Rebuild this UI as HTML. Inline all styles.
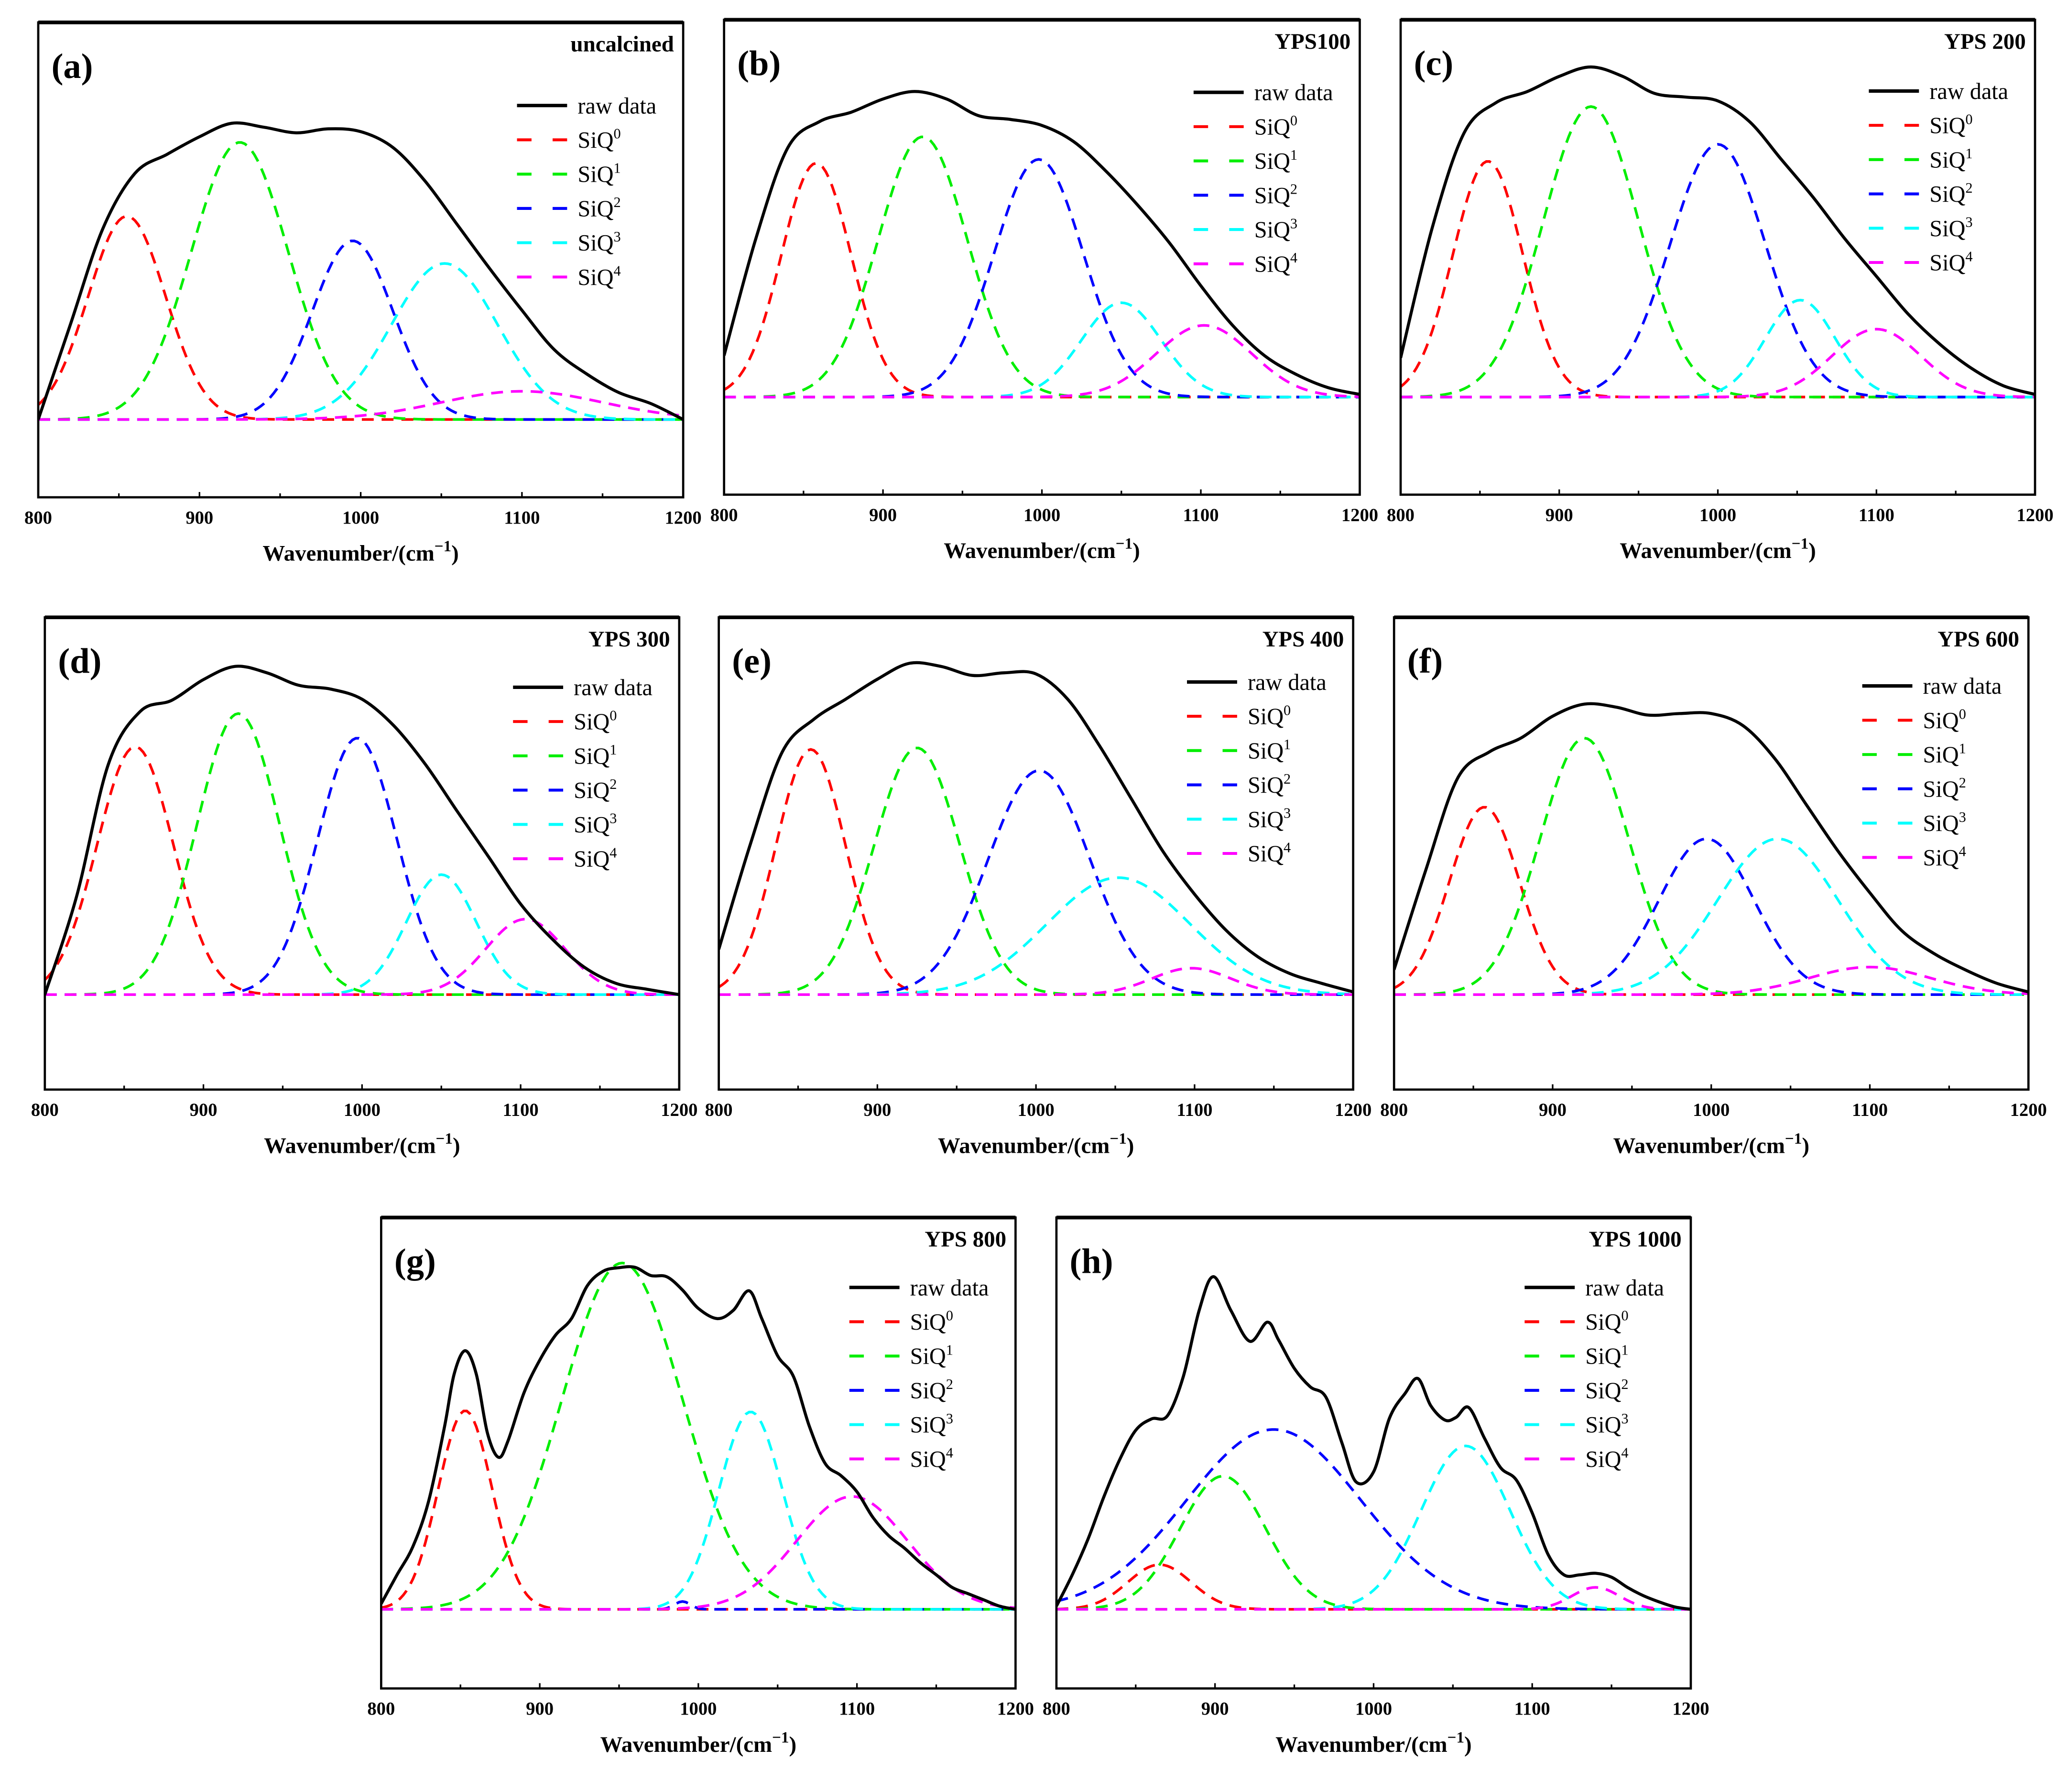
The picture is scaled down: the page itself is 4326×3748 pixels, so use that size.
<!DOCTYPE html>
<html><head><meta charset="utf-8"><style>
html,body{margin:0;padding:0;background:#fff}
svg{display:block}
text{font-family:"Liberation Serif",serif}
</style></head><body>
<svg id="fig" xmlns="http://www.w3.org/2000/svg" width="4326" height="3748" viewBox="0 0 1568 1358.5" preserveAspectRatio="none"></svg>
<script>
const xTicks=[800,900,1000,1100,1200];
const seriesNames=["SiQ0","SiQ1","SiQ2","SiQ3","SiQ4"];
const panelLabels=["(a)","(b)","(c)","(d)","(e)","(f)","(g)","(h)"];
const panelTitles=["uncalcined","YPS100","YPS 200","YPS 300","YPS 400","YPS 600","YPS 800","YPS 1000"];
const grid20=[800,820,840,860,880,900,920,940,960,980,1000,1020,1040,1060,1080,1100,1120,1140,1160,1180,1200];
const rawY_a=[0,0.24,0.48,0.62,0.668,0.712,0.746,0.736,0.722,0.732,0.725,0.685,0.6,0.49,0.38,0.275,0.176,0.115,0.068,0.04,0];
const rawY_b=[0.11,0.42,0.66,0.73,0.755,0.79,0.81,0.79,0.746,0.736,0.72,0.677,0.6,0.51,0.41,0.295,0.19,0.11,0.06,0.025,0.007];
const rawY_c=[0.104,0.45,0.7,0.78,0.81,0.85,0.875,0.85,0.805,0.795,0.785,0.73,0.63,0.53,0.42,0.32,0.22,0.14,0.076,0.03,0.007];
const rawY_d=[0,0.26,0.61,0.75,0.78,0.835,0.87,0.853,0.82,0.81,0.783,0.713,0.61,0.486,0.364,0.24,0.147,0.073,0.03,0.014,0];
const rawY_e=[0.12,0.4,0.643,0.73,0.783,0.836,0.878,0.87,0.846,0.853,0.85,0.783,0.66,0.52,0.38,0.266,0.17,0.1,0.056,0.03,0.007];
const rawY_f=[0.066,0.33,0.573,0.643,0.68,0.738,0.77,0.762,0.741,0.745,0.745,0.713,0.626,0.503,0.38,0.27,0.17,0.11,0.066,0.03,0.007];
const rawX_g=[800,810,820,830,840,846,853,860,867,874,880,890,900,910,920,930,940,950,960,970,980,990,1000,1012,1022,1032,1040,1050,1060,1070,1080,1090,1100,1110,1120,1130,1140,1150,1160,1170,1180,1190,1200];
const rawY_g=[0.014,0.088,0.16,0.277,0.467,0.6,0.66,0.6,0.45,0.388,0.43,0.552,0.636,0.7,0.742,0.826,0.863,0.872,0.873,0.852,0.849,0.815,0.768,0.742,0.763,0.813,0.742,0.647,0.594,0.467,0.372,0.341,0.3,0.235,0.188,0.156,0.119,0.088,0.056,0.04,0.024,0.008,0];
const rawX_h=[800,810,820,830,840,850,860,870,880,890,899,910,922,933,940,950,960,970,980,989,1000,1010,1020,1028,1036,1045,1052,1060,1070,1080,1090,1100,1110,1120,1130,1140,1150,1160,1170,1180,1190,1200];
const rawY_h=[0.008,0.088,0.18,0.288,0.383,0.457,0.486,0.494,0.594,0.763,0.849,0.763,0.684,0.733,0.688,0.615,0.568,0.541,0.425,0.325,0.351,0.488,0.552,0.589,0.52,0.483,0.49,0.515,0.436,0.362,0.33,0.246,0.14,0.088,0.088,0.092,0.082,0.056,0.035,0.019,0.006,0];
const centers_a=[855,925,995,1052,1100], amps_a=[0.512,0.698,0.45,0.393,0.071], sigmas_a=[24,30,25,33,50];
const centers_b=[858,925,998,1050,1102], amps_b=[0.62,0.69,0.63,0.25,0.19], sigmas_b=[22,28,28,25,30];
const centers_c=[855,920,1000,1052,1100], amps_c=[0.625,0.77,0.67,0.257,0.18], sigmas_c=[22,30,30,22,28];
const centers_d=[857,922,997,1050,1103], amps_d=[0.657,0.745,0.68,0.318,0.2], sigmas_d=[24,26,25,22,25];
const centers_e=[858,925,1002,1052,1098], amps_e=[0.65,0.654,0.594,0.31,0.07], sigmas_e=[22,27,32,45,25];
const centers_f=[857,920,997,1042,1100], amps_f=[0.497,0.68,0.413,0.413,0.073], sigmas_f=[22,28,30,38,38];
const centers_g=[853,952,990,1033,1097], amps_g=[0.507,0.884,0.02,0.504,0.288], sigmas_g=[17,38,5,20,35];
const centers_h=[865,905,937,1058,1140], amps_h=[0.114,0.34,0.459,0.417,0.056], sigmas_h=[20,27,55,28,15];

const layout=[
 {l:29,r:518,t:17,b:377,base:318,lg:63},
 {l:549,r:1031,t:15,b:375,base:301,lg:55},
 {l:1062,r:1543,t:15,b:375,base:301,lg:54},
 {l:34,r:515,t:468,b:826,base:754,lg:53},
 {l:545,r:1026,t:468,b:826,base:754,lg:49},
 {l:1057,r:1538,t:468,b:826,base:754,lg:52},
 {l:289,r:770,t:923,b:1280,base:1220,lg:53},
 {l:801,r:1282,t:923,b:1280,base:1220,lg:53}];
const panelData=[
 [grid20,rawY_a,centers_a,amps_a,sigmas_a],[grid20,rawY_b,centers_b,amps_b,sigmas_b],[grid20,rawY_c,centers_c,amps_c,sigmas_c],
 [grid20,rawY_d,centers_d,amps_d,sigmas_d],[grid20,rawY_e,centers_e,amps_e,sigmas_e],[grid20,rawY_f,centers_f,amps_f,sigmas_f],
 [rawX_g,rawY_g,centers_g,amps_g,sigmas_g],[rawX_h,rawY_h,centers_h,amps_h,sigmas_h]];
const colors=["#ff0000","#00ee00","#0000ff","#00ffff","#ff00ff"];
const NS="http://www.w3.org/2000/svg";
const svg=document.getElementById('fig');
function mk(tag,attrs,parent){const e=document.createElementNS(NS,tag);for(const k in attrs)e.setAttribute(k,attrs[k]);parent.appendChild(e);return e;}
function catmull(pts){let d=`M${pts[0][0].toFixed(2)},${pts[0][1].toFixed(2)}`;
 for(let i=0;i<pts.length-1;i++){const p0=pts[i-1]||pts[i],p1=pts[i],p2=pts[i+1],p3=pts[i+2]||p2;
  const c1=[p1[0]+(p2[0]-p0[0])/6,p1[1]+(p2[1]-p0[1])/6],c2=[p2[0]-(p3[0]-p1[0])/6,p2[1]-(p3[1]-p1[1])/6];
  d+=`C${c1[0].toFixed(2)},${c1[1].toFixed(2)} ${c2[0].toFixed(2)},${c2[1].toFixed(2)} ${p2[0].toFixed(2)},${p2[1].toFixed(2)}`;}
 return d;}
layout.forEach((L,pi)=>{
 const [rx,ry,cs,as,ss]=panelData[pi];
 const g=mk('g',{},svg);
 
 
 const X=v=>L.l+(v-800)/400*(L.r-L.l);
 const unit=L.base-L.t;
 const Y=v=>L.base-v*unit;
 const clip='clip'+pi;
 const cp=mk('clipPath',{id:clip},g);mk('rect',{x:L.l,y:L.t,width:L.r-L.l,height:L.b-L.t},cp);
 const plot=mk('g',{'clip-path':`url(#${clip})`},g);
 cs.forEach((c,ci)=>{let pts=[];for(let x=800;x<=1200;x+=2){pts.push(X(x).toFixed(2)+','+Y(as[ci]*Math.exp(-((x-c)**2)/(2*ss[ci]**2))).toFixed(2));}
  const p=mk('polyline',{points:pts.join(' '),fill:'none',stroke:colors[ci],'stroke-width':2,'stroke-dasharray':'9,6'},plot);
  
  });
 const rp=mk('path',{d:catmull(rx.map((x,i)=>[X(x),Y(ry[i])])),fill:'none',stroke:'#000','stroke-width':2.3},plot);
 
 
 const fr=mk('rect',{x:L.l,y:L.t,width:L.r-L.l,height:L.b-L.t,fill:'none',stroke:'#000','stroke-width':1.7},g);
 
 
 mk('line',{x1:L.l,x2:L.r,y1:L.t,y2:L.t,stroke:'#000','stroke-width':2.8},g);
 for(let v=800;v<=1200;v+=50){const major=v%100===0;mk('line',{x1:X(v),x2:X(v),y1:L.b,y2:L.b-(major?4:3),stroke:'#000','stroke-width':1.2},g);}
 xTicks.forEach(v=>{const t=mk('text',{x:X(v),y:L.b+20,'font-size':14,'font-weight':'bold','text-anchor':'middle'},g);t.textContent=v;
  
  });
 const at=mk('text',{x:(L.l+L.r)/2,y:L.b+48,'font-size':17,'font-weight':'bold','text-anchor':'middle'},g);
 
 
 at.innerHTML='Wavenumber/(cm<tspan dy="-7" font-size="12">−1</tspan><tspan dy="7">)</tspan>';
 const pl=mk('text',{x:L.l+10,y:L.t+42,'font-size':27,'font-weight':'bold'},g);pl.textContent=panelLabels[pi];
 
 
 const tt=mk('text',{x:L.r-7,y:L.t+22,'font-size':17,'font-weight':'bold','text-anchor':'end'},g);tt.textContent=panelTitles[pi];
 
 
 const lg=mk('g',{},g);
 
 
 const lx=L.r-126, ly0=L.t+L.lg;
 for(let k=0;k<6;k++){const y=ly0+k*26;
  const ln=mk('line',{x1:lx,x2:lx+38,y1:y,y2:y,stroke:k===0?'#000':colors[k-1],'stroke-width':k===0?2.6:2.2,'stroke-dasharray':k===0?'none':'11,16'},lg);
  
  
  const t=mk('text',{x:lx+46,y:y+6,'font-size':17.5},lg);
  
  
  if(k===0)t.textContent='raw data';else t.innerHTML='SiQ<tspan dy="-7" font-size="11">'+(k-1)+'</tspan>';}
});
</script>
</body></html>
